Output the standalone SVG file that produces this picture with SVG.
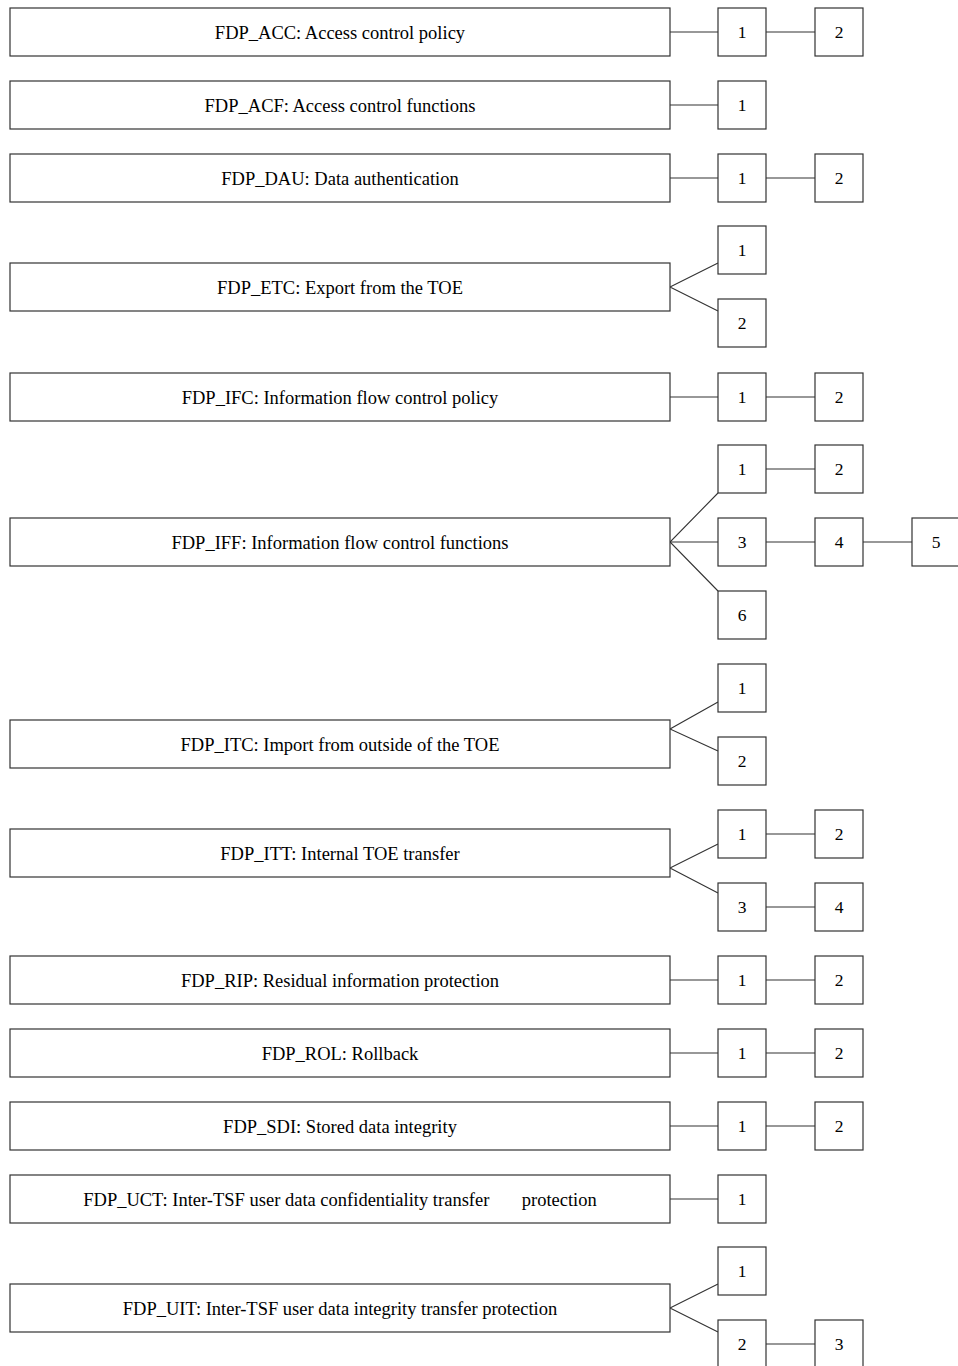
<svg xmlns="http://www.w3.org/2000/svg" width="958" height="1366" viewBox="0 0 958 1366">
<style>
rect{fill:#fff;stroke:#333;stroke-width:1.2}
line,polyline{stroke:#333;stroke-width:1.1;fill:none}
text{font-family:"Liberation Serif","Times New Roman",serif;font-size:18.5px;fill:#000;text-anchor:middle}
.n{font-size:17.5px}
</style>
<rect x="0" y="0" width="958" height="1366" style="stroke:none"/>
<g id="connectors">
<line x1="670" y1="32" x2="718" y2="32"/><line x1="766" y1="32" x2="815" y2="32"/>
<line x1="670" y1="105" x2="718" y2="105"/>
<line x1="670" y1="178" x2="718" y2="178"/><line x1="766" y1="178" x2="815" y2="178"/>
<polyline points="718,263 670,287 718,311"/>
<line x1="670" y1="397" x2="718" y2="397"/><line x1="766" y1="397" x2="815" y2="397"/>
<polyline points="718,493 670,542 718,591"/>
<line x1="670" y1="542" x2="718" y2="542"/><line x1="766" y1="542" x2="815" y2="542"/><line x1="863" y1="542" x2="912" y2="542"/>
<line x1="766" y1="469" x2="815" y2="469"/>
<polyline points="718,702 670,729 718,751"/>
<polyline points="718,844 670,868 718,893"/>
<line x1="766" y1="834" x2="815" y2="834"/><line x1="766" y1="907" x2="815" y2="907"/>
<line x1="670" y1="980" x2="718" y2="980"/><line x1="766" y1="980" x2="815" y2="980"/>
<line x1="670" y1="1053" x2="718" y2="1053"/><line x1="766" y1="1053" x2="815" y2="1053"/>
<line x1="670" y1="1126" x2="718" y2="1126"/><line x1="766" y1="1126" x2="815" y2="1126"/>
<line x1="670" y1="1199" x2="718" y2="1199"/>
<polyline points="718,1284 670,1308 718,1332"/>
<line x1="766" y1="1344" x2="815" y2="1344"/>
</g>
<g id="FDP_ACC"><rect x="10" y="8" width="660" height="48"/><text x="340" y="39">FDP_ACC: Access control policy</text></g>
<g id="ACC_1"><rect x="718" y="8" width="48" height="48"/><text class="n" x="742" y="38">1</text></g>
<g id="ACC_2"><rect x="815" y="8" width="48" height="48"/><text class="n" x="839" y="38">2</text></g>
<g id="FDP_ACF"><rect x="10" y="81" width="660" height="48"/><text x="340" y="112">FDP_ACF: Access control functions</text></g>
<g id="ACF_1"><rect x="718" y="81" width="48" height="48"/><text class="n" x="742" y="111">1</text></g>
<g id="FDP_DAU"><rect x="10" y="154" width="660" height="48"/><text x="340" y="185">FDP_DAU: Data authentication</text></g>
<g id="DAU_1"><rect x="718" y="154" width="48" height="48"/><text class="n" x="742" y="184">1</text></g>
<g id="DAU_2"><rect x="815" y="154" width="48" height="48"/><text class="n" x="839" y="184">2</text></g>
<g id="FDP_ETC"><rect x="10" y="263" width="660" height="48"/><text x="340" y="294">FDP_ETC: Export from the TOE</text></g>
<g id="ETC_1"><rect x="718" y="226" width="48" height="48"/><text class="n" x="742" y="256">1</text></g>
<g id="ETC_2"><rect x="718" y="299" width="48" height="48"/><text class="n" x="742" y="329">2</text></g>
<g id="FDP_IFC"><rect x="10" y="373" width="660" height="48"/><text x="340" y="404">FDP_IFC: Information flow control policy</text></g>
<g id="IFC_1"><rect x="718" y="373" width="48" height="48"/><text class="n" x="742" y="403">1</text></g>
<g id="IFC_2"><rect x="815" y="373" width="48" height="48"/><text class="n" x="839" y="403">2</text></g>
<g id="FDP_IFF"><rect x="10" y="518" width="660" height="48"/><text x="340" y="549">FDP_IFF: Information flow control functions</text></g>
<g id="IFF_1"><rect x="718" y="445" width="48" height="48"/><text class="n" x="742" y="475">1</text></g>
<g id="IFF_2"><rect x="815" y="445" width="48" height="48"/><text class="n" x="839" y="475">2</text></g>
<g id="IFF_3"><rect x="718" y="518" width="48" height="48"/><text class="n" x="742" y="548">3</text></g>
<g id="IFF_4"><rect x="815" y="518" width="48" height="48"/><text class="n" x="839" y="548">4</text></g>
<g id="IFF_5"><rect x="912" y="518" width="48" height="48"/><text class="n" x="936" y="548">5</text></g>
<g id="IFF_6"><rect x="718" y="591" width="48" height="48"/><text class="n" x="742" y="621">6</text></g>
<g id="FDP_ITC"><rect x="10" y="720" width="660" height="48"/><text x="340" y="751">FDP_ITC: Import from outside of the TOE</text></g>
<g id="ITC_1"><rect x="718" y="664" width="48" height="48"/><text class="n" x="742" y="694">1</text></g>
<g id="ITC_2"><rect x="718" y="737" width="48" height="48"/><text class="n" x="742" y="767">2</text></g>
<g id="FDP_ITT"><rect x="10" y="829" width="660" height="48"/><text x="340" y="860">FDP_ITT: Internal TOE transfer</text></g>
<g id="ITT_1"><rect x="718" y="810" width="48" height="48"/><text class="n" x="742" y="840">1</text></g>
<g id="ITT_2"><rect x="815" y="810" width="48" height="48"/><text class="n" x="839" y="840">2</text></g>
<g id="ITT_3"><rect x="718" y="883" width="48" height="48"/><text class="n" x="742" y="913">3</text></g>
<g id="ITT_4"><rect x="815" y="883" width="48" height="48"/><text class="n" x="839" y="913">4</text></g>
<g id="FDP_RIP"><rect x="10" y="956" width="660" height="48"/><text x="340" y="987">FDP_RIP: Residual information protection</text></g>
<g id="RIP_1"><rect x="718" y="956" width="48" height="48"/><text class="n" x="742" y="986">1</text></g>
<g id="RIP_2"><rect x="815" y="956" width="48" height="48"/><text class="n" x="839" y="986">2</text></g>
<g id="FDP_ROL"><rect x="10" y="1029" width="660" height="48"/><text x="340" y="1060">FDP_ROL: Rollback</text></g>
<g id="ROL_1"><rect x="718" y="1029" width="48" height="48"/><text class="n" x="742" y="1059">1</text></g>
<g id="ROL_2"><rect x="815" y="1029" width="48" height="48"/><text class="n" x="839" y="1059">2</text></g>
<g id="FDP_SDI"><rect x="10" y="1102" width="660" height="48"/><text x="340" y="1133">FDP_SDI: Stored data integrity</text></g>
<g id="SDI_1"><rect x="718" y="1102" width="48" height="48"/><text class="n" x="742" y="1132">1</text></g>
<g id="SDI_2"><rect x="815" y="1102" width="48" height="48"/><text class="n" x="839" y="1132">2</text></g>
<g id="FDP_UCT"><rect x="10" y="1175" width="660" height="48"/><text x="340" y="1206" xml:space="preserve" style="white-space:pre">FDP_UCT: Inter-TSF user data confidentiality transfer       protection</text></g>
<g id="UCT_1"><rect x="718" y="1175" width="48" height="48"/><text class="n" x="742" y="1205">1</text></g>
<g id="FDP_UIT"><rect x="10" y="1284" width="660" height="48"/><text x="340" y="1315">FDP_UIT: Inter-TSF user data integrity transfer protection</text></g>
<g id="UIT_1"><rect x="718" y="1247" width="48" height="48"/><text class="n" x="742" y="1277">1</text></g>
<g id="UIT_2"><rect x="718" y="1320" width="48" height="48"/><text class="n" x="742" y="1350">2</text></g>
<g id="UIT_3"><rect x="815" y="1320" width="48" height="48"/><text class="n" x="839" y="1350">3</text></g>
</svg>
